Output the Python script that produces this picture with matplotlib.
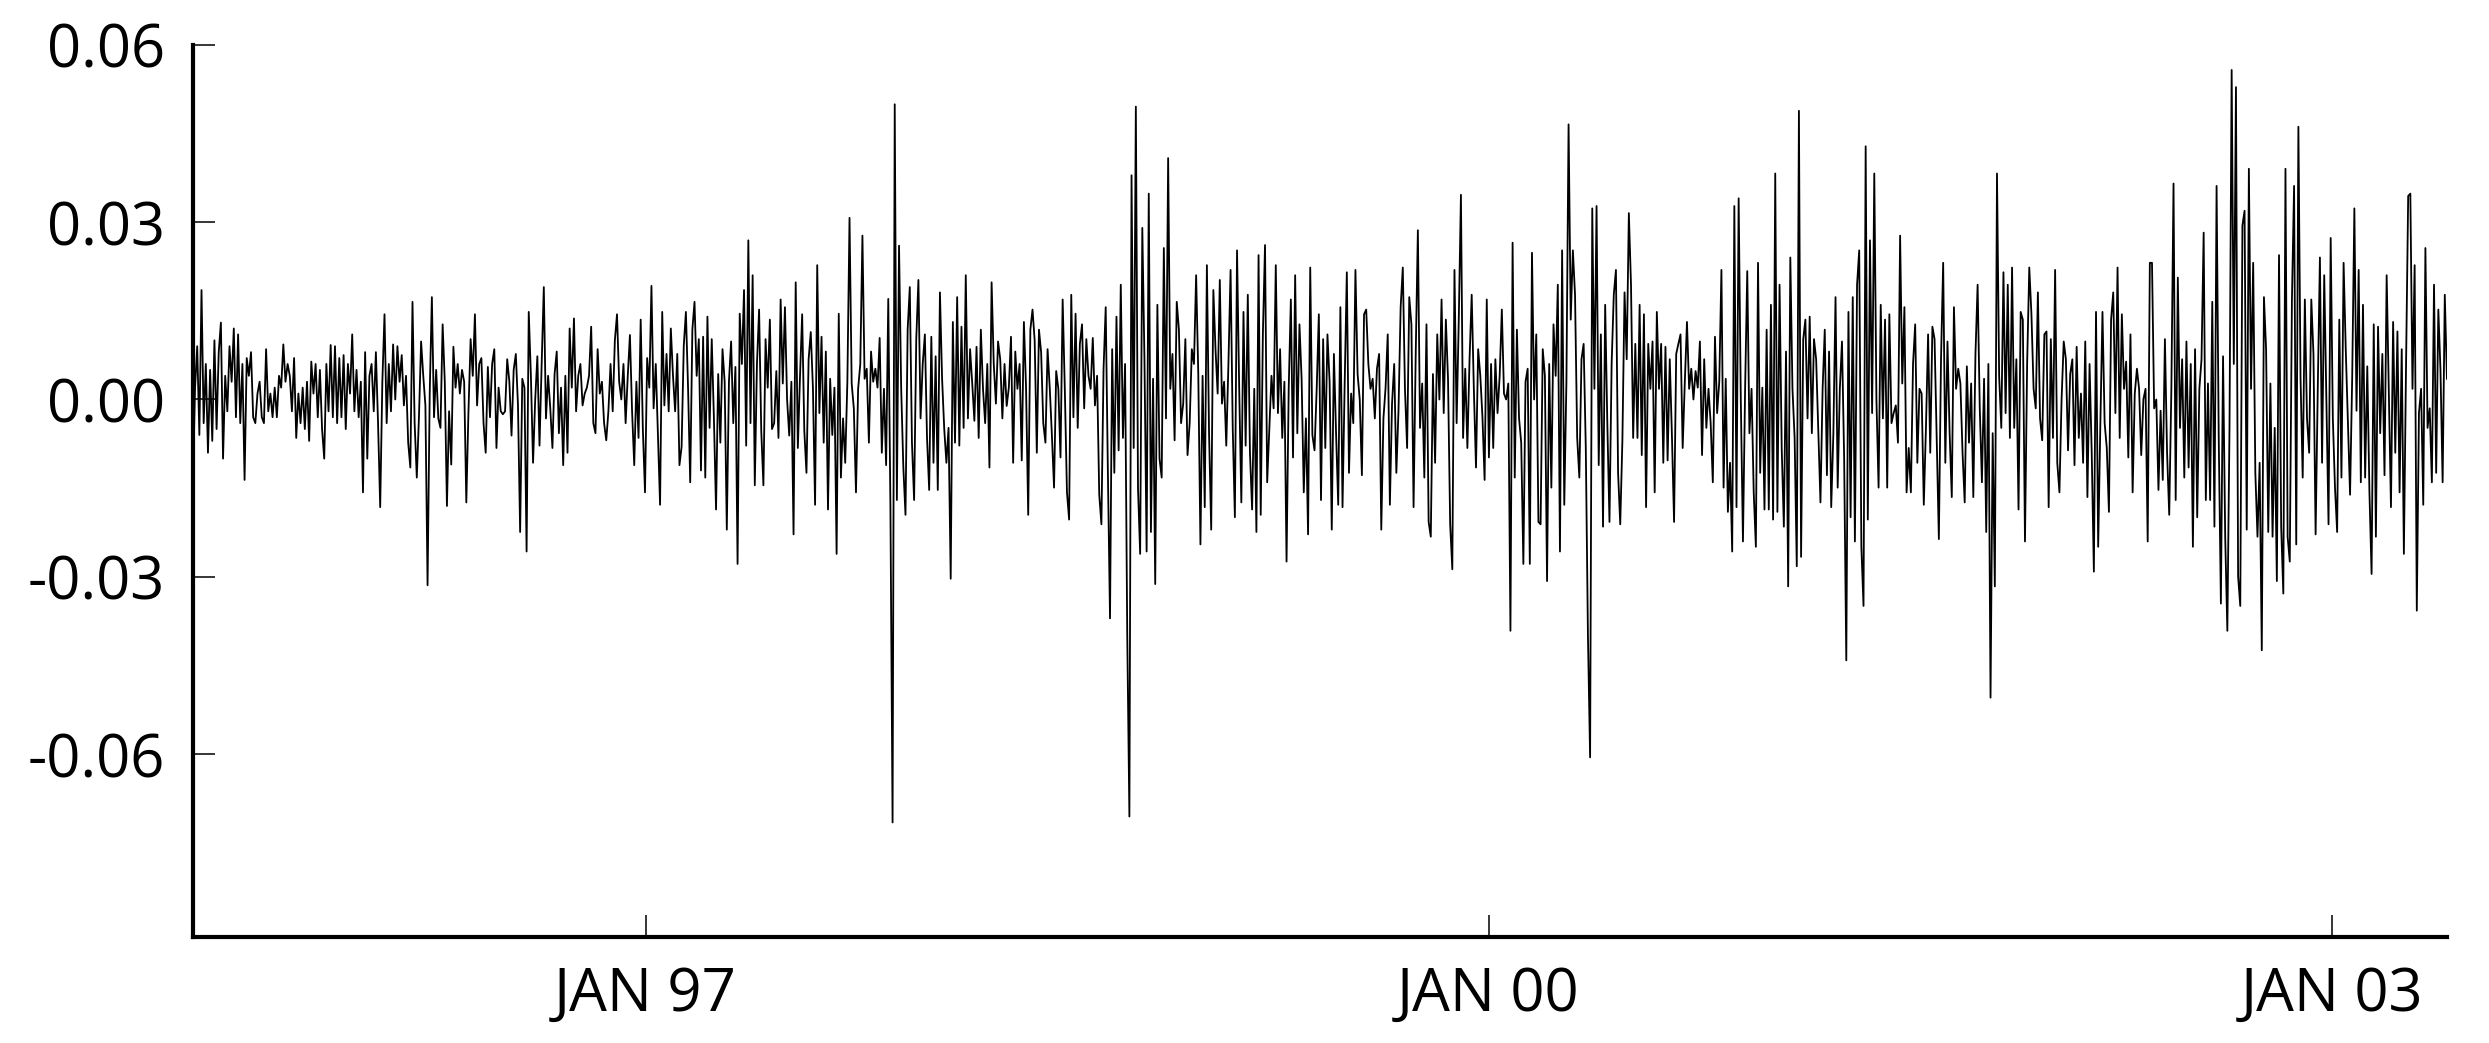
import numpy as np
import pandas as pd
import matplotlib
matplotlib.use("Agg")
import matplotlib.pyplot as plt

# daily returns in units of 1e-4, one list per ~year of chart
seg_1995_96 = [-140, 20, 90, -60, 185, -40, 60, -90, 50, -70,
               100, -50, 80, 130, -100, 40, -20, 90, 30, 120,
               -30, 110, -40, 60, -136, 70, 40, 80, -30, -40,
               10, 30, -30, -40, 85, -20, 10, -30, 20, -30,
               40, 20, 93, 30, 60, 40, -20, 70, -65, 10,
               -40, 20, -50, 30, -70, 64, 10, 60, -30, 50,
               -50, -100, 60, -20, 92, -30, 90, -40, 70, -30,
               75, -50, 60, 10, 110, -20, 50, -30, 30, -157,
               80, -100, 40, 60, -20, 80, -40, -182, 30, 144,
               -40, 60, -20, 93, 0, 90, 30, 75, -10, 40,
               -73, -115, 165, -40, -132, -30, 98, 40, -10, -314,
               10, 173, -30, 50, -32, -48, 127, 30, -180, -20,
               -110, 89, 20, 60, 10, 50, 30, -174, -20, 102]
seg_1996_97 = [40, 144, -10, 60, 70, -40, -90, 55, -30, 60,
               85, -82, 20, -20, -25, -20, 68, 30, -61, 50,
               77, -10, -224, 35, 20, -257, 148, 40, -107, 0,
               73, -78, 60, 190, -32, 40, -15, -82, 43, 81,
               -57, 20, -111, 40, -90, 120, 20, 137, -20, 40,
               60, -10, 10, 20, 40, 123, -40, -57, 85, 10,
               30, -40, -69, -20, 60, -20, 100, 144, 30, 0,
               60, -40, 40, 109, -20, -111, 30, -65, 135, -50,
               -157, 70, 20, 192, -15, 60, -60, -178, 148, -10,
               77, -20, 120, 40, -20, 77, -111, -80, 90, 148,
               20, -140, 118, 165, 40, 102, -120, 106, -132, 140,
               -48, 102, -30, -186, 43, -73, 85, 30, -220, 31,
               98, -40, 55, -278, 145, 60, 185, -78, 269, -40]
seg_1997_98 = [210, -145, 60, 152, -53, -145, 102, 20, 135, -50,
               -40, 48, -65, 169, 27, 156, 0, -61, 30, -228,
               198, -82, 39, 144, -53, -124, 68, 114, 20, -178,
               227, -23, 106, -73, 81, -186, 35, -60, 20, -261,
               145, -132, -32, -107, 30, 307, 27, -15, -157, 18,
               60, 277, 35, 52, -73, 81, 30, 52, 20, 104,
               -90, 18, -111, 170, -182, -715, 499, -170, 260, 18,
               -115, -195, 118, 190, -73, -170, 102, 202, -32, 60,
               110, -65, -153, 106, -107, 73, -153, 181, 35, -50,
               -107, -48, -303, 131, -73, 173, -78, 123, -48, 210,
               -32, 85, 27, -36, 89, -65, 118, 18, -40, 60,
               -115, 198, 60, -7, 98, 68, -32, 60, -11, 20,
               106, -107, 81, 18, 60, -103, 131, 20, -195, 118]
seg_1998_99 = [152, 100, -90, 118, 80, -40, -73, 85, 20, -60,
               -149, 48, 18, -98, 169, 18, -157, -203, 177, -30,
               145, -48, 94, 127, -15, 102, 40, 18, 104, -10,
               40, -161, -211, 52, 156, -120, -370, 85, -124, 140,
               -86, 194, -65, 60, -395, -705, 379, -82, 495, -150,
               -261, 290, 68, -257, 348, -224, 35, -312, 160, -100,
               -132, 256, -32, 408, 18, 77, -69, 165, 118, -40,
               -7, 102, -94, -40, 85, 60, 210, 43, -245, 40,
               -182, 227, -57, -220, 185, 85, 10, 202, -7, 30,
               -78, 60, 219, -48, -199, 252, 20, -174, 148, -78,
               177, -90, -186, 18, -224, 244, -195, 110, 261, -140,
               -48, 40, -15, 227, -23, 85, -65, 30, -274, 18,
               169, -98, 210, -57, 127, 35, -157, -32, -228, 223]
seg_1999_00 = [-60, -86, 18, 144, -170, 102, -82, 110, 30, -220,
               77, -57, -178, 156, -182, 27, 215, -124, 10, -40,
               219, 43, 0, -128, 144, 152, 60, 18, 35, -32,
               52, 77, -220, -32, 20, 110, -178, -7, 60, -124,
               -19, 156, 223, 18, -82, 173, 127, -182, 77, 286,
               -48, 27, -132, 127, -207, -232, 43, -107, 110, 0,
               169, -23, 135, 35, -211, -287, 219, -40, 135, 346,
               -65, 52, -82, 68, 177, 18, -115, 85, 40, -30,
               -136, 169, -98, 60, -82, 68, -23, 40, 152, 10,
               0, 27, -391, 265, -132, 118, -32, -73, -278, 30,
               52, -278, 248, 0, 110, -207, -211, 85, 40, -307,
               60, -149, 127, 40, 194, -257, 252, -178, 30, 465,
               135, 252, 177, -65, -132, 68, 94, -82, -400, -605]
seg_2000_01 = [323, 18, 327, -111, 110, -215, 160, -40, -207, 60,
               177, 219, -124, -211, -69, 181, 68, 315, 194, -65,
               94, -65, 160, -94, 144, -182, 94, 18, 98, -157,
               148, 18, 94, -107, 89, -103, 68, -60, -207, 77,
               94, 110, -82, 30, 131, 18, 52, 0, 48, 20,
               98, -94, 68, -48, 18, -40, -140, 106, -23, 30,
               219, -149, 35, -190, -107, -257, 327, -182, 340, 0,
               -240, 18, 217, -57, 18, -157, -249, 231, -124, 20,
               -186, 118, -186, 160, -203, 382, -190, 194, -82, -215,
               81, -316, 240, 18, -65, -282, 488, -266, 102, 135,
               -32, 140, -57, 102, 68, -53, -174, 18, 118, -128,
               81, -182, -57, 173, -149, 18, 98, -98, -441, 148,
               -199, 173, -240, 194, 252, -249, -349, 428, -203, 269]
seg_2001_02 = [-23, 382, 0, -149, 160, -32, 135, -149, 144, -40,
               -23, -10, -73, 277, 27, 156, -157, -82, -157, 60,
               127, -107, 18, 10, -178, -48, 110, -90, 123, 102,
               -65, -236, 68, 231, -107, 98, -57, -165, 156, 18,
               52, 27, -90, -174, 56, -73, 27, -165, 77, 194,
               -15, -140, 35, -224, 60, -504, -57, -316, 382, 40,
               -48, 215, -23, 194, -65, 223, -48, 68, -186, 148,
               135, -240, 60, 223, 144, 18, -15, 181, -32, -69,
               110, 115, -182, 102, -65, 219, -107, -157, 0, 98,
               68, -86, 43, 68, -111, 89, -65, 10, -107, 98,
               -165, 60, -90, -291, 148, -249, -44, 148, -40, -82,
               -190, 135, 181, -23, 223, -65, 144, 18, 64, -98,
               110, -157, 10, 52, 18, -94, 0, 18, -240, 231]
seg_2002_03 = [231, -15, 0, -153, -19, -136, 102, -90, -195, 18,
               365, -170, 206, -48, 68, -132, 98, -115, 60, -249,
               85, -199, 18, 68, 282, -170, 27, -170, 165, -215,
               361, -65, -345, 73, -232, -391, -48, 557, 60, 528,
               -299, -349, 294, 319, -220, 390, 18, 231, -124, -232,
               -107, -424, 173, 85, -224, 27, -232, -48, -307, 244,
               -215, -328, 390, -232, -274, 169, 361, -245, 461, 35,
               -132, 169, -32, -90, 169, 77, -228, 18, 240, -107,
               210, 0, -211, 273, -32, -149, -224, 135, -132, 231,
               85, -36, -161, 39, 323, -19, 219, -140, 160, -132,
               56, -157, -295, 127, -232, 123, -57, 77, -128, 210,
               18, -182, 131, -90, 115, -157, 85, -261, 56, 344,
               348, 18, 227, -357, -23, 18, -178, 256, -48, -15,
               -140, 194, -124, 152, 50, -140, 177, 35]

returns = np.array(seg_1995_96 + seg_1996_97 + seg_1997_98 + seg_1998_99 +
                   seg_1999_00 + seg_2000_01 + seg_2001_02 + seg_2002_03) * 1e-4

start, end = pd.Timestamp("1995-05-24"), pd.Timestamp("2003-05-30")
dates = pd.date_range(start, end, periods=len(returns))

tick_dates = [pd.Timestamp("1997-01-01"), pd.Timestamp("2000-01-01"), pd.Timestamp("2003-01-01")]
tick_labels = ["JAN 97", "JAN 00", "JAN 03"]
y_ticks = [0.06, 0.03, 0.0, -0.03, -0.06]
y_labels = ["0.06", "0.03", "0.00", "-0.03", "-0.06"]

plt.rcParams['font.family'] = ['Open Sans', 'DejaVu Sans']

fig = plt.figure(figsize=(24.89, 10.43), dpi=100)
ax = fig.add_axes([0.0775, 0.102, 0.9056, 0.8553])

ax.plot(dates, returns, color="black", lw=1.3)

ax.set_xlim(start, end)
ax.set_ylim(-0.0908, 0.06)
ax.set_xticks(tick_dates)
ax.set_xticklabels(tick_labels)
ax.set_yticks(y_ticks)
ax.set_yticklabels(y_labels)

for side in ["top", "right"]:
    ax.spines[side].set_visible(False)
for side in ["left", "bottom"]:
    ax.spines[side].set_linewidth(3.0)

ax.tick_params(axis="both", direction="in", length=16, width=1.1, labelsize=43)
ax.tick_params(axis="y", pad=20)
ax.tick_params(axis="x", pad=20)

fig.savefig("out.png", dpi=100)
